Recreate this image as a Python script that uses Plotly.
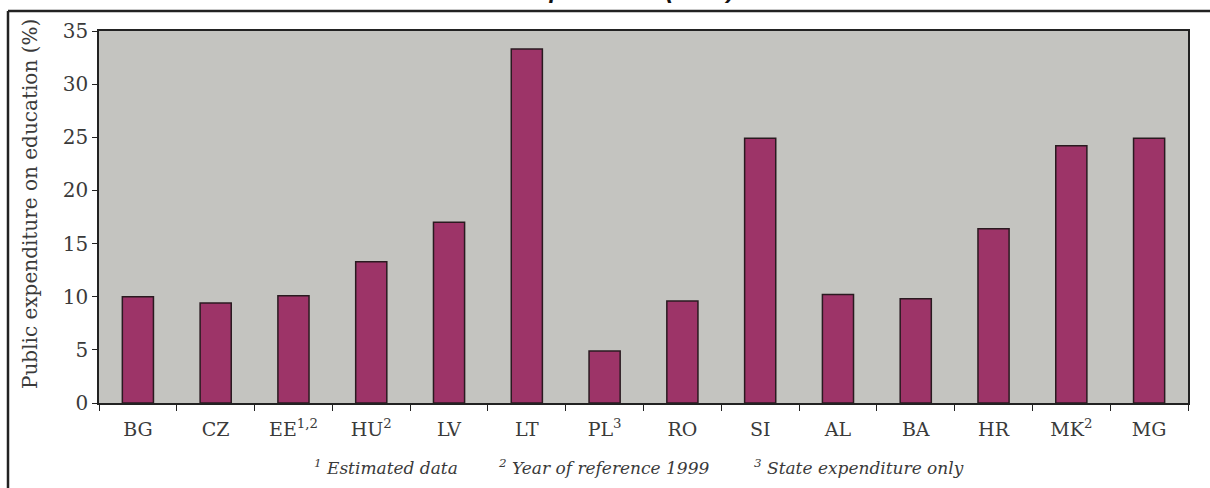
import plotly.graph_objects as go

categories = ["BG", "CZ", "EE<sup>1,2</sup>", "HU<sup>2</sup>", "LV", "LT", "PL<sup>3</sup>",
              "RO", "SI", "AL", "BA", "HR", "MK<sup>2</sup>", "MG"]
values = [10.0, 9.4, 10.1, 13.3, 17.0, 33.3, 4.9, 9.6, 24.9, 10.2, 9.8, 16.4, 24.2, 24.9]
y_title = "Public expenditure on education (%)"
footnotes = ["<sup>1</sup> Estimated data", "<sup>2</sup> Year of reference 1999",
             "<sup>3</sup> State expenditure only"]
title_text = "Public expenditure (2000)"

W, H = 1210, 488
ML, MR, MT, MB = 99, 22, 31, 85
pw, ph = W - ML - MR, H - MT - MB

def px_x(x):
    return (x - ML) / pw

def px_y(y):
    return 1 - (y - MT) / ph

serif = "DejaVu Serif"
txt_col = "#3a3a3a"

fig = go.Figure(go.Bar(
    x=categories, y=values,
    marker=dict(color="#9D3468", line=dict(color="#2a1a20", width=1.5)),
))

fig.update_layout(
    width=W, height=H,
    margin=dict(l=ML, r=MR, t=MT, b=MB),
    paper_bgcolor="white", plot_bgcolor="#C4C4C0",
    bargap=0.6, showlegend=False,
    font=dict(family=serif, size=18, color=txt_col),
)
fig.update_xaxes(
    showline=True, linecolor="#222", linewidth=1.5, mirror=True,
    ticks="outside", tickson="boundaries", ticklen=6, tickcolor="#222",
    tickfont=dict(family=serif, size=19, color=txt_col), ticklabelstandoff=8,
    showgrid=False,
)
fig.update_yaxes(
    range=[0, 35], dtick=5, showline=True, linecolor="#222", linewidth=1.5, mirror=True,
    ticks="outside", ticklen=5, tickcolor="#222", showgrid=False, zeroline=False,
    tickfont=dict(family=serif, size=20, color=txt_col),
)

# y-axis title
fig.add_annotation(text=y_title, xref="paper", yref="paper", x=px_x(30), y=px_y(204),
                   textangle=-90, showarrow=False, xanchor="center", yanchor="middle",
                   font=dict(family=serif, size=20, color=txt_col))

# frame lines of the scanned figure
fig.add_shape(type="line", xref="paper", yref="paper",
              x0=px_x(8), x1=px_x(W + 5), y0=px_y(11), y1=px_y(11),
              line=dict(color="#222", width=2.5))
fig.add_shape(type="line", xref="paper", yref="paper",
              x0=px_x(8), x1=px_x(8), y0=px_y(11), y1=px_y(H + 5),
              line=dict(color="#222", width=2.5))

# footnotes
for txt, xc in zip(footnotes, [386, 603, 859]):
    fig.add_annotation(text="<i>" + txt + "</i>", xref="paper", yref="paper",
                       x=px_x(xc), y=px_y(467), showarrow=False,
                       xanchor="center", yanchor="middle",
                       font=dict(family=serif, size=17, color=txt_col))

# title, mostly cut off at the top edge
fig.add_annotation(text="<b><i>" + title_text + "</i></b>", xref="paper", yref="paper",
                   x=px_x(737), y=px_y(5), showarrow=False, xanchor="right", yanchor="bottom",
                   font=dict(family="Liberation Sans", size=24, color="#111"))

fig.write_html("out.html", config={"displayModeBar": False},
               post_script="document.body.style.margin='0';")
